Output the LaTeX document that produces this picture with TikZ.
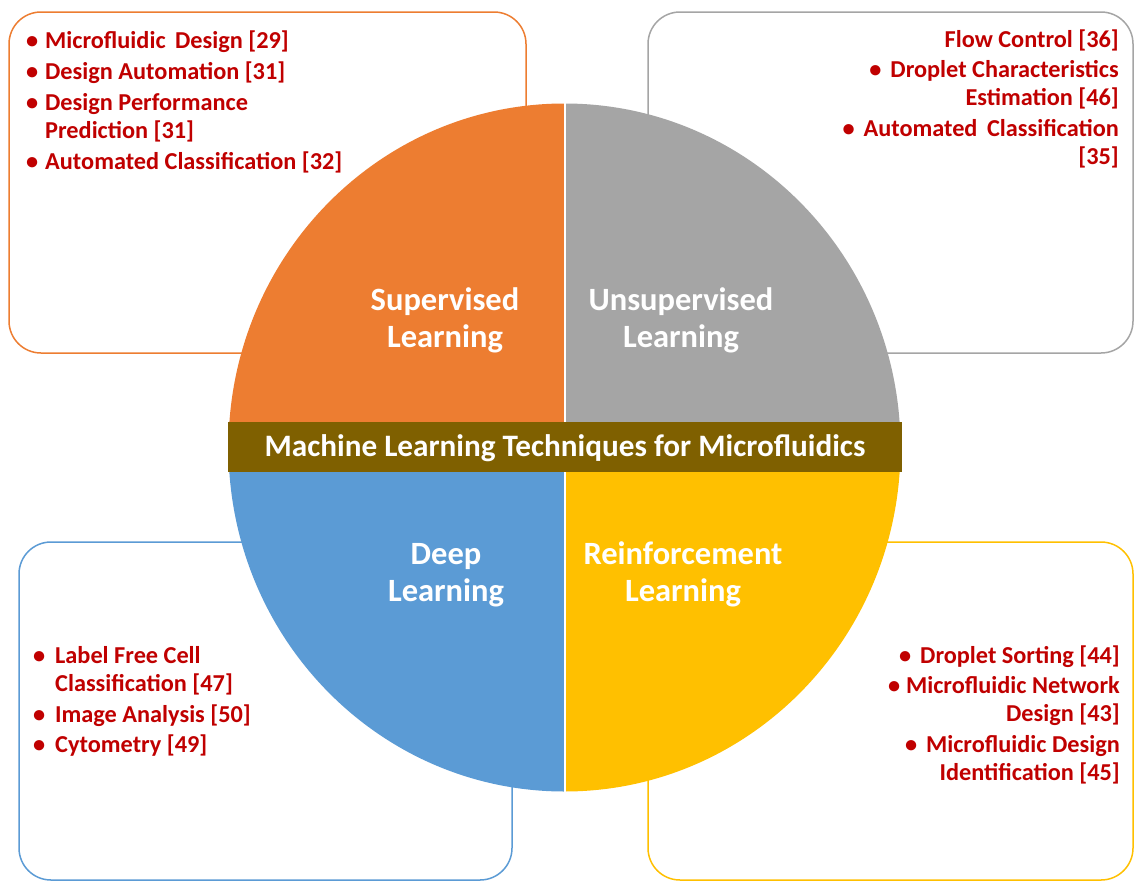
\documentclass[tikz,border=0pt]{standalone}
\usepackage{fontspec}
\setmainfont{Carlito}
\definecolor{qorange}{HTML}{ED7D31}
\definecolor{qgrey}{HTML}{A5A5A5}
\definecolor{qblue}{HTML}{5B9BD5}
\definecolor{qyellow}{HTML}{FFC000}
\definecolor{bandbrown}{HTML}{7F6000}
\definecolor{refred}{HTML}{C00000}
\newcommand{\firststrut}[1]{\rule{0pt}{#1}}
\newcommand{\lbul}{\makebox[19pt][l]{\textbullet}}
\newcommand{\rbul}{\makebox[21pt][l]{\textbullet}}
\begin{document}
\begin{tikzpicture}[x=1pt,y=-1pt,
  areabox/.style={draw=#1, line width=1.5pt, rounded corners=32pt, fill=white,
    inner sep=0pt},
  quadlabel/.style={text=white, font=\bfseries\fontsize{32.5}{37}\selectfont,
    align=center, inner sep=0pt, anchor=north},
  reflist/.style={text=refred, font=\bfseries\fontsize{24.3}{28}\selectfont,
    inner sep=0pt},
]
\useasboundingbox (0,0) rectangle (1135,881);
\fill[white] (0,0) rectangle (1135,881);

% surrounding boxes holding the references
\node[areabox=qorange, minimum width=517, minimum height=341] (supbox) at (267.5,182.5) {};
\node[areabox=qgrey, minimum width=485, minimum height=341] (unsbox) at (890.5,182.5) {};
\node[areabox=qblue, minimum width=493, minimum height=338] (deepbox) at (265.5,711) {};
\node[areabox=qyellow, minimum width=485, minimum height=338] (rlbox) at (890.5,711) {};

% the four quadrants of the central disc
\coordinate (ctr) at (564.5,447.5);
\fill[qorange] (ctr) -- ++(-336,0) arc[start angle=180, end angle=270, x radius=336, y radius=344] -- cycle;
\fill[qgrey] (ctr) -- ++(0,-344) arc[start angle=270, end angle=360, x radius=336, y radius=344] -- cycle;
\fill[qyellow] (ctr) -- ++(336,0) arc[start angle=0, end angle=90, x radius=336, y radius=344] -- cycle;
\fill[qblue] (ctr) -- ++(0,344) arc[start angle=90, end angle=180, x radius=336, y radius=344] -- cycle;
\coordinate (dtop) at (564.5,102);
\coordinate (dbot) at (564.5,793);
\draw[white, line width=2pt] (dtop) -- (dbot);

% title band
\node[fill=bandbrown, minimum width=674, minimum height=50, inner sep=0pt,
  text=white, font=\bfseries\fontsize{31.2}{36}\selectfont,
  text height=25pt, text depth=7pt] (title) at (565,447)
  {Machine Learning Techniques for Microfluidics};

% quadrant labels
\node[quadlabel] (sup) at (445,283) {\firststrut{27pt}Supervised\\Learning};
\node[quadlabel] (uns) at (681,283) {\firststrut{27pt}Unsupervised\\Learning};
\node[quadlabel] (deep) at (446,537) {\firststrut{27pt}Deep\\Learning};
\node[quadlabel] (rl) at (683,537) {\firststrut{27pt}Reinforcement\\Learning};

% reference lists
\node[reflist, align=left, anchor=north west] (suplist) at (26,28)
  {\firststrut{20pt}\lbul Microfluidic\, Design [29]\\[3pt]
   \lbul Design Automation [31]\\[3pt]
   \lbul Design Performance\\
   \hspace*{19pt}Prediction [31]\\[3pt]
   \lbul Automated Classification [32]};
\node[reflist, align=right, anchor=north east] (unslist) at (1119,27)
  {\firststrut{20pt}Flow Control [36]\\[2pt]
   \rbul Droplet Characteristics\\
   Estimation [46]\\[3pt]
   \rbul Automated\, Classification\\
   \relax[35]};
\node[reflist, align=left, anchor=north west] (deeplist) at (33,643)
  {\firststrut{20pt}\makebox[22pt][l]{\textbullet}Label Free Cell\\
   \hspace*{22pt}Classification [47]\\[3pt]
   \makebox[22pt][l]{\textbullet}Image Analysis [50]\\[2pt]
   \makebox[22pt][l]{\textbullet}Cytometry [49]};
\node[reflist, align=right, anchor=north east] (rllist) at (1120,643)
  {\firststrut{20pt}\rbul Droplet Sorting [44]\\[2pt]
   \makebox[18pt][l]{\textbullet}Microfluidic Network\\
   Design [43]\\[3pt]
   \rbul Microfluidic Design\\
   Identification [45]};
\end{tikzpicture}
\end{document}
